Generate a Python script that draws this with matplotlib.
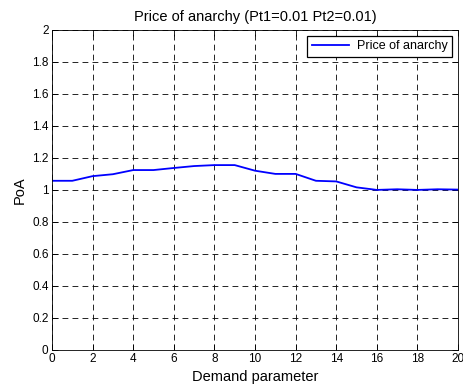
"""
Price of anarchy plot
"""

import matplotlib
matplotlib.use("Agg")
import matplotlib.pyplot as plt  # type: ignore

demand = list(range(21))
poa = [1.057, 1.057, 1.086, 1.098, 1.124, 1.124, 1.137, 1.149, 1.155, 1.155,
       1.12, 1.10, 1.10, 1.057, 1.053, 1.016, 1.0, 1.004, 1.0, 1.004, 1.002]
x_ticks = list(range(0, 21, 2))
y_ticks = [0, 0.2, 0.4, 0.6, 0.8, 1, 1.2, 1.4, 1.6, 1.8, 2]
y_labels = ["0", "0.2", "0.4", "0.6", "0.8", "1", "1.2", "1.4", "1.6", "1.8", "2"]

plt.rcParams["font.family"] = ["Liberation Sans", "DejaVu Sans"]

fig = plt.figure(figsize=(4.63, 3.89), dpi=100)
axes = fig.add_axes([0.1123, 0.1003, 0.877, 0.823])
axes.plot(demand, poa, color="#0000ff", linewidth=1.3, label="Price of anarchy")
axes.set_xlim(0, 20)
axes.set_ylim(0, 2)
axes.set_xticks(x_ticks)
axes.set_yticks(y_ticks)
axes.set_yticklabels(y_labels)
axes.tick_params(axis="both", direction="in", labelsize=8.5, length=4, width=0.6,
                 top=True, right=True, pad=2.5)
axes.grid(True, color="black", linestyle=(0, (7, 5)), linewidth=0.6)
for spine in axes.spines.values():
    spine.set_linewidth(0.6)
axes.set_title("Price of anarchy (Pt1=0.01 Pt2=0.01)", fontsize=10.5, pad=6.5)
axes.set_xlabel("Demand parameter", fontsize=10.5, labelpad=3.5)
axes.set_ylabel("PoA", fontsize=10.5, labelpad=4)
leg = axes.legend(loc="upper right", fontsize=9, fancybox=False, framealpha=1,
                  edgecolor="black", handlelength=3.0, borderpad=0.35,
                  borderaxespad=0.5, handletextpad=0.6)
leg.get_frame().set_linewidth(0.9)

fig.savefig("out.png", dpi=100)
